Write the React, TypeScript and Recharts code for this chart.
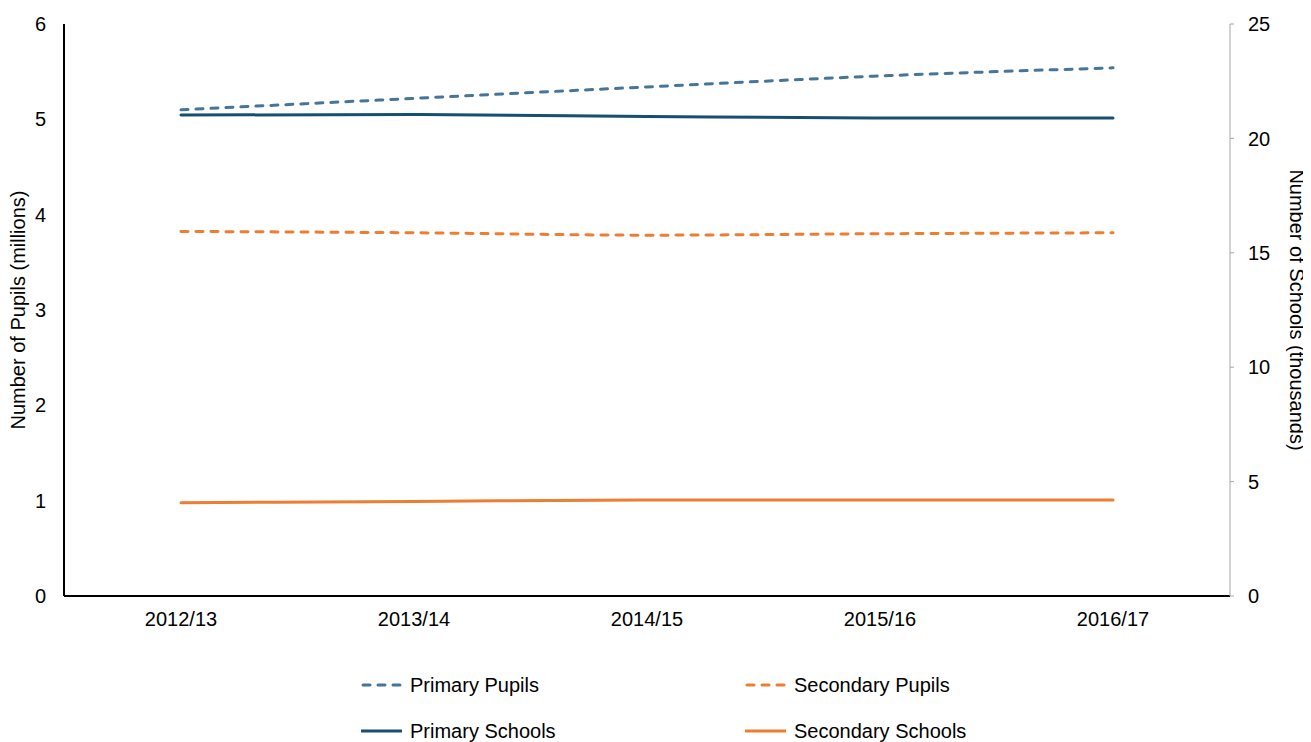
import { LineChart, Line, XAxis, YAxis, Legend } from 'recharts';

const years = ['2012/13', '2013/14', '2014/15', '2015/16', '2016/17'];
// millions
const primaryPupils = [5.1, 5.22, 5.34, 5.455, 5.54];
const secondaryPupils = [3.824, 3.81, 3.785, 3.8, 3.81];
// thousands
const primarySchools = [21.02, 21.04, 20.96, 20.89, 20.89];
const secondarySchools = [4.08, 4.13, 4.2, 4.2, 4.2];

const pupilTicks = [0, 1, 2, 3, 4, 5, 6];
const schoolTicks = [0, 5, 10, 15, 20, 25];

const BLUE_LIGHT = '#467597';
const BLUE_DARK = '#17506f';
const ORANGE = '#ed7d31';
const FONT = '"Liberation Sans", Arial, sans-serif';

const data = years.map((year, i) => ({
  year,
  primaryPupils: primaryPupils[i],
  secondaryPupils: secondaryPupils[i],
  primarySchools: primarySchools[i],
  secondarySchools: secondarySchools[i],
}));

const legendItems = [
  { name: 'Primary Pupils', color: BLUE_LIGHT, dashed: true, left: 353, top: 59 },
  { name: 'Secondary Pupils', color: ORANGE, dashed: true, left: 737, top: 59 },
  { name: 'Primary Schools', color: BLUE_DARK, dashed: false, left: 353, top: 105 },
  { name: 'Secondary Schools', color: ORANGE, dashed: false, left: 737, top: 105 },
];

function ChartLegend() {
  return (
    <div style={{ position: 'relative', width: 1303, height: 116, fontFamily: FONT }}>
      {legendItems.map((item) => (
        <div
          key={item.name}
          style={{
            position: 'absolute',
            left: item.left,
            top: item.top - 12,
            height: 24,
            display: 'flex',
            alignItems: 'center',
            fontSize: 20,
            color: '#000',
            whiteSpace: 'nowrap',
          }}
        >
          <svg width={49} height={6}>
            {item.dashed ? (
              <line
                x1={2}
                y1={3}
                x2={39}
                y2={3}
                stroke={item.color}
                strokeWidth={3}
                strokeLinecap="round"
                strokeDasharray="7 8"
              />
            ) : (
              <line x1={0} y1={3} x2={41} y2={3} stroke={item.color} strokeWidth={3} />
            )}
          </svg>
          <span>{item.name}</span>
        </div>
      ))}
    </div>
  );
}

export default function App() {
  const tickStyle = { fill: '#000', fontSize: 20, fontFamily: FONT };
  const labelStyle = { fill: '#000', fontSize: 20, fontFamily: FONT, textAnchor: 'middle' as const };

  return (
    <div style={{ fontFamily: FONT }}>
      <LineChart width={1303} height={734} data={data} margin={{ top: 16, right: 8, bottom: 0, left: 0 }}>
        <XAxis
          dataKey="year"
          height={30}
          padding={{ left: 117, right: 117 }}
          axisLine={{ stroke: '#000', strokeWidth: 2 }}
          tickLine={false}
          tickSize={0}
          tickMargin={16}
          tick={tickStyle}
        />
        <YAxis
          yAxisId="pupils"
          width={56}
          domain={[0, 6]}
          ticks={pupilTicks}
          axisLine={{ stroke: '#000', strokeWidth: 2 }}
          tickLine={false}
          tickSize={0}
          tickMargin={18}
          tick={tickStyle}
          label={{ value: 'Number of Pupils (millions)', angle: -90, position: 'center', dx: -18, style: labelStyle }}
        />
        <YAxis
          yAxisId="schools"
          orientation="right"
          width={73}
          domain={[0, 25]}
          ticks={schoolTicks}
          axisLine={{ stroke: '#a6a6a6', strokeWidth: 1 }}
          tickLine={{ stroke: '#a6a6a6' }}
          tickSize={4}
          tickMargin={14}
          tick={tickStyle}
          label={{ value: 'Number of Schools  (thousands)', angle: 90, position: 'center', dx: 31, style: labelStyle }}
        />
        <Legend verticalAlign="bottom" wrapperStyle={{ left: 0, width: 1303 }} content={() => <ChartLegend />} />
        <Line
          yAxisId="pupils"
          type="monotone"
          dataKey="primaryPupils"
          name="Primary Pupils"
          stroke={BLUE_LIGHT}
          strokeWidth={3}
          strokeDasharray="7 8"
          strokeLinecap="round"
          dot={false}
          isAnimationActive={false}
        />
        <Line
          yAxisId="pupils"
          type="monotone"
          dataKey="secondaryPupils"
          name="Secondary Pupils"
          stroke={ORANGE}
          strokeWidth={3}
          strokeDasharray="7 8"
          strokeLinecap="round"
          dot={false}
          isAnimationActive={false}
        />
        <Line
          yAxisId="schools"
          type="monotone"
          dataKey="primarySchools"
          name="Primary Schools"
          stroke={BLUE_DARK}
          strokeWidth={3}
          strokeLinecap="round"
          dot={false}
          isAnimationActive={false}
        />
        <Line
          yAxisId="schools"
          type="monotone"
          dataKey="secondarySchools"
          name="Secondary Schools"
          stroke={ORANGE}
          strokeWidth={3}
          strokeLinecap="round"
          dot={false}
          isAnimationActive={false}
        />
      </LineChart>
    </div>
  );
}
